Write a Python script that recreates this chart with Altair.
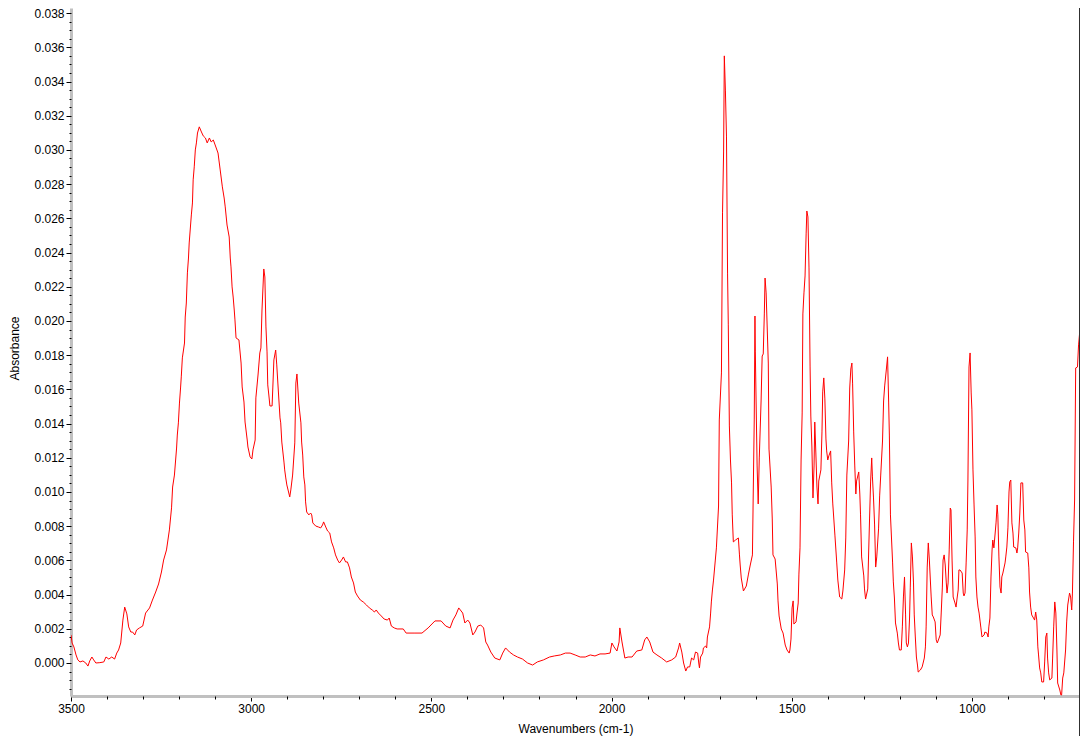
import altair as alt
import pandas as pd

# ---- spectrum values (wavenumber cm-1, absorbance) ----
wn_a = [3500, 3497, 3492, 3486, 3481, 3475, 3467, 3459, 3453, 3448,
        3442, 3437, 3431, 3420, 3409, 3403, 3395, 3387, 3379, 3373,
        3368, 3362, 3356, 3351, 3345, 3340, 3334, 3329, 3323, 3318,
        3310, 3301, 3293, 3282, 3274, 3265, 3257, 3249, 3243, 3235,
        3227, 3221, 3218, 3213, 3207, 3205, 3202, 3199, 3196, 3194,
        3191, 3185, 3183, 3180, 3177, 3174, 3172, 3166, 3163, 3161,
        3158, 3155, 3152, 3149, 3144, 3138, 3133, 3127, 3122, 3116,
        3111, 3105, 3100, 3092, 3086, 3080, 3075, 3072, 3067, 3061,
        3058, 3056, 3053, 3050, 3047, 3045, 3042, 3034, 3028, 3025,
        3020, 3017, 3011, 3009, 3003]
ab_a = [0.00164, 0.00117, 0.00094, 0.00047, 0.00018, 0.00006, 0.00012, 0.0, -0.00018, 0.00012,
        0.00035, 0.00018, 0.0, 0.00002, 0.00006, 0.00035, 0.00023, 0.00035, 0.00023, 0.00058,
        0.00076, 0.00117, 0.00251, 0.00327, 0.00287, 0.00211, 0.00181, 0.00181, 0.00164, 0.00193,
        0.00205, 0.00216, 0.00292, 0.00322, 0.00368, 0.00415, 0.00462, 0.00532, 0.00602, 0.00661,
        0.00778, 0.00907, 0.01029, 0.01099, 0.01257, 0.01333, 0.01404, 0.01520, 0.01608, 0.01673,
        0.01784, 0.01871, 0.02023, 0.02105, 0.02281, 0.02368, 0.02456, 0.02620, 0.02690, 0.02825,
        0.02901, 0.03000, 0.03041, 0.03099, 0.03135, 0.03105, 0.03082, 0.03070, 0.03041, 0.03070,
        0.03047, 0.03058, 0.03029, 0.02982, 0.02883, 0.02784, 0.02719, 0.02667, 0.02561, 0.02491,
        0.02368, 0.02316, 0.02199, 0.02140, 0.02064, 0.02006, 0.01901, 0.01889, 0.01754, 0.01614,
        0.01526, 0.01409, 0.01304, 0.01263, 0.01205]

wn_b = [2998, 2995, 2989, 2987, 2981, 2976, 2973, 2970, 2965, 2962,
        2959, 2956, 2954, 2951, 2948, 2942, 2940, 2937, 2932, 2929,
        2926, 2920, 2918, 2915, 2909, 2907, 2904, 2901, 2893, 2890,
        2885, 2879, 2876, 2873, 2868, 2862, 2860, 2857, 2854, 2851,
        2849, 2846, 2840, 2835, 2832, 2829, 2821, 2813, 2807, 2802,
        2799, 2793, 2788, 2782, 2777, 2771, 2766, 2760, 2755, 2749,
        2744, 2738, 2733, 2727, 2722, 2716, 2711, 2705, 2697, 2689,
        2680, 2672, 2664, 2658, 2653, 2647, 2639, 2631, 2622, 2617,
        2611, 2603, 2595, 2578, 2570, 2548, 2526, 2509, 2490, 2473,
        2460, 2448, 2440, 2432, 2424, 2413, 2407, 2399, 2393, 2385,
        2379, 2371, 2363, 2355, 2349, 2344, 2335, 2324, 2310, 2302,
        2294, 2283, 2272, 2261, 2247, 2233]
ab_b = [0.01193, 0.01246, 0.01304, 0.01550, 0.01684, 0.01813, 0.01842, 0.02064, 0.02304, 0.02257,
        0.01965, 0.01819, 0.01626, 0.01567, 0.01503, 0.01503, 0.01608, 0.01772, 0.01830, 0.01743,
        0.01637, 0.01433, 0.01404, 0.01292, 0.01175, 0.01129, 0.01082, 0.01041, 0.00971, 0.01012,
        0.01099, 0.01287, 0.01637, 0.01690, 0.01520, 0.01404, 0.01292, 0.01216, 0.01088, 0.01041,
        0.00942, 0.00883, 0.00866, 0.00877, 0.00866, 0.00819, 0.00801, 0.00795, 0.00790, 0.00807,
        0.00825, 0.00795, 0.00772, 0.00760, 0.00708, 0.00673, 0.00632, 0.00602, 0.00585, 0.00602,
        0.00620, 0.00591, 0.00591, 0.00556, 0.00503, 0.00468, 0.00415, 0.00392, 0.00368, 0.00357,
        0.00339, 0.00322, 0.00310, 0.00298, 0.00310, 0.00292, 0.00275, 0.00257, 0.00251, 0.00263,
        0.00216, 0.00205, 0.00199, 0.00199, 0.00175, 0.00175, 0.00175, 0.00205, 0.00246, 0.00246,
        0.00216, 0.00205, 0.00251, 0.00281, 0.00322, 0.00292, 0.00234, 0.00251, 0.00234, 0.00164,
        0.00181, 0.00216, 0.00222, 0.00205, 0.00123, 0.00105, 0.00064, 0.00029, 0.00018, 0.00058,
        0.00088, 0.00064, 0.00047, 0.00035, 0.00023, 0.0]

wn_c = [2219, 2206, 2189, 2172, 2159, 2142, 2128, 2115, 2101, 2087,
        2073, 2059, 2046, 2032, 2018, 2004, 1999, 1993, 1985, 1979,
        1977, 1971, 1963, 1954, 1943, 1930, 1916, 1908, 1902, 1894,
        1885, 1874, 1861, 1847, 1833, 1822, 1814, 1811, 1805, 1800,
        1794, 1789, 1783, 1778, 1772, 1767, 1761, 1758, 1756, 1753,
        1747, 1745, 1739, 1736, 1734, 1728, 1725, 1723, 1720, 1717, 1712]
ab_c = [-0.00012, 0.00006, 0.00018, 0.00035, 0.00041, 0.00047, 0.00058, 0.00058, 0.00047, 0.00035,
        0.00035, 0.00047, 0.00041, 0.00053, 0.00053, 0.00058, 0.00117, 0.00094, 0.00070, 0.00123,
        0.00205, 0.00123, 0.00029, 0.00035, 0.00035, 0.00070, 0.00076, 0.00135, 0.00152, 0.00123,
        0.00064, 0.00047, 0.00029, 0.00006, 0.00018, 0.00035, 0.00088, 0.00117, 0.00064, 0.0,
        -0.00047, -0.00023, -0.00023, 0.00029, 0.00018, 0.00064, 0.00058, 0.0, -0.00029, 0.00035,
        0.00058, 0.00088, 0.00099, 0.00088, 0.00152, 0.00211, 0.00292, 0.00357, 0.00427, 0.00485, 0.00602]

wn_d = [1709, 1703, 1701, 1695, 1692, 1689, 1687, 1684, 1681, 1678,
        1676, 1673, 1670, 1667, 1665, 1662, 1656, 1648, 1645, 1643,
        1640, 1634, 1626, 1620, 1615, 1609, 1607, 1604, 1602, 1601,
        1596, 1593, 1590, 1585, 1582, 1579, 1576, 1574, 1571, 1565,
        1563, 1557, 1554, 1552, 1546, 1540, 1538, 1535, 1529, 1524,
        1518, 1513, 1507, 1505, 1502, 1499, 1496, 1494, 1488, 1485,
        1482, 1480, 1477, 1474, 1471, 1469, 1466, 1463, 1460, 1458,
        1455, 1452, 1449, 1447, 1444, 1441, 1438, 1436, 1433, 1430,
        1427, 1425, 1419, 1416, 1414, 1411, 1408, 1405, 1403, 1400,
        1397, 1392, 1389, 1386, 1380, 1375, 1372, 1367, 1361, 1358,
        1353, 1350, 1347, 1342, 1339, 1336, 1333, 1331, 1328, 1325,
        1322, 1320, 1314, 1311, 1309, 1306, 1300]
ab_d = [0.00673, 0.00918, 0.01421, 0.01696, 0.02632, 0.02988, 0.03550, 0.03345, 0.03076, 0.02275,
        0.01977, 0.01386, 0.01187, 0.01053, 0.00866, 0.00708, 0.00719, 0.00731, 0.00632, 0.00573,
        0.00497, 0.00421, 0.00450, 0.00520, 0.00573, 0.00632, 0.00953, 0.01421, 0.02029, 0.01819,
        0.01152, 0.00930, 0.01199, 0.01532, 0.01795, 0.01807, 0.02041, 0.02251, 0.02164, 0.01754,
        0.01251, 0.01029, 0.00842, 0.00632, 0.00608, 0.00462, 0.00363, 0.00275, 0.00199, 0.00175,
        0.00105, 0.00076, 0.00058, 0.00076, 0.00140, 0.00322, 0.00363, 0.00228, 0.00240, 0.00298,
        0.00351, 0.00520, 0.00673, 0.01187, 0.01462, 0.02041, 0.02164, 0.02263, 0.02509, 0.02643,
        0.02608, 0.02310, 0.01731, 0.01444, 0.01263, 0.00965, 0.01152, 0.01409, 0.01228, 0.01029,
        0.00930, 0.01064, 0.01129, 0.01351, 0.01585, 0.01667, 0.01544, 0.01310, 0.01240, 0.01187,
        0.01211, 0.01240, 0.01053, 0.00930, 0.00743, 0.00585, 0.00485, 0.00386, 0.00374, 0.00421,
        0.00544, 0.00731, 0.01099, 0.01298, 0.01608, 0.01719, 0.01754, 0.01632, 0.01351, 0.01152,
        0.00988, 0.01064, 0.01117, 0.00988, 0.00866, 0.00620, 0.00509]

wn_e = [1298, 1295, 1289, 1287, 1284, 1281, 1278, 1276, 1273, 1270,
        1267, 1264, 1259, 1256, 1253, 1248, 1245, 1242, 1237, 1234,
        1231, 1229, 1226, 1220, 1218, 1215, 1212, 1207, 1204, 1201,
        1196, 1193, 1190, 1187, 1184, 1182, 1179, 1176, 1173, 1171,
        1168, 1165, 1162, 1160, 1157, 1154, 1151, 1149, 1143, 1138,
        1132, 1129, 1127, 1124, 1121, 1118, 1113, 1110, 1107, 1102,
        1099, 1096, 1091, 1088, 1085, 1082, 1080, 1077, 1074, 1071,
        1069, 1066, 1063, 1060, 1058, 1055, 1052, 1047, 1044, 1041,
        1038, 1036, 1033, 1027, 1024, 1022, 1019, 1016, 1013, 1011,
        1008, 1005, 1002, 1000, 997, 994, 991, 989, 986, 983,
        980, 977, 975, 972, 966, 964, 958, 955, 953, 950,
        947, 944, 942, 939, 933, 930, 928, 925, 922, 919,
        917, 914, 908, 906, 903, 900, 897, 895, 892, 889,
        886, 884, 878, 875, 873, 870, 867, 864, 859, 856,
        853, 851, 845, 842, 840, 837, 834, 829, 826, 823,
        820, 817, 815, 812, 809, 806, 801, 798, 795, 792,
        790, 787, 784, 778, 776, 773, 770, 767, 764, 762,
        756, 753, 751, 748, 745, 740, 737, 734, 729, 726,
        723, 721, 718, 715, 712, 707, 704, 701]
ab_e = [0.00433, 0.00374, 0.00433, 0.00608, 0.00842, 0.01064, 0.01199, 0.01088, 0.00965, 0.00807,
        0.00561, 0.00620, 0.00784, 0.00977, 0.01099, 0.01298, 0.01532, 0.01620, 0.01725, 0.01790,
        0.01526, 0.01333, 0.00866, 0.00585, 0.00474, 0.00380, 0.00234, 0.00175, 0.00117, 0.00076,
        0.00076, 0.00211, 0.00386, 0.00503, 0.00281, 0.00117, 0.00094, 0.00117, 0.00263, 0.00439,
        0.00702, 0.00620, 0.00468, 0.00281, 0.00152, 0.00035, -0.00012, -0.00053, -0.00041, -0.00023,
        0.00029, 0.00094, 0.00211, 0.00561, 0.00702, 0.00602, 0.00386, 0.00281, 0.00269, 0.00240,
        0.00135, 0.00117, 0.00146, 0.00164, 0.00298, 0.00444, 0.00602, 0.00632, 0.00573, 0.00468,
        0.00409, 0.00468, 0.00661, 0.00906, 0.00895, 0.00602, 0.00386, 0.00351, 0.00327, 0.00380,
        0.00427, 0.00544, 0.00544, 0.00526, 0.00409, 0.00392, 0.00409, 0.00585, 0.00778, 0.01070,
        0.01731, 0.01813, 0.01579, 0.01480, 0.01129, 0.00924, 0.00737, 0.00503, 0.00386, 0.00327,
        0.00292, 0.00240, 0.00205, 0.00152, 0.00164, 0.00181, 0.00175, 0.00152, 0.00211, 0.00263,
        0.00503, 0.00661, 0.00719, 0.00673, 0.00819, 0.00924, 0.00866, 0.00620, 0.00444, 0.00409,
        0.00503, 0.00526, 0.00585, 0.00620, 0.00678, 0.00790, 0.01000, 0.01058, 0.01070, 0.00819,
        0.00760, 0.00678, 0.00673, 0.00643, 0.00673, 0.00760, 0.00877, 0.01053, 0.01053, 0.00836,
        0.00778, 0.00649, 0.00643, 0.00556, 0.00415, 0.00327, 0.00281, 0.00263, 0.00251, 0.00298,
        0.00251, 0.00094, 0.00047, -0.00029, -0.00058, -0.00111, -0.00111, 0.00006, 0.00152, 0.00175,
        0.00029, -0.00058, -0.00099, -0.00088, 0.00029, 0.00211, 0.00357, 0.00292, 0.00076, -0.00117,
        -0.00158, -0.00187, -0.00187, -0.00088, -0.00058, 0.00076, 0.00240, 0.00339, 0.00409, 0.00386,
        0.00310, 0.00409, 0.00708, 0.00953, 0.01725, 0.01731, 0.01860, 0.01930]

# ---- axis ticks / labels ----
x_major = [3500, 3000, 2500, 2000, 1500, 1000]
x_minor = [3400, 3300, 3200, 3100, 2900, 2800, 2700, 2600, 2400, 2300, 2200, 2100,
           1900, 1800, 1700, 1600, 1400, 1300, 1200, 1100, 900, 800, 700]
y_major = [0.000, 0.002, 0.004, 0.006, 0.008, 0.010, 0.012, 0.014, 0.016, 0.018,
           0.020, 0.022, 0.024, 0.026, 0.028, 0.030, 0.032, 0.034, 0.036, 0.038]
y_minor = [round(k * 0.0005, 4) for k in range(-3, 77)]

wavenumber = wn_a + wn_b + wn_c + wn_d + wn_e
absorbance = ab_a + ab_b + ab_c + ab_d + ab_e
df = pd.DataFrame({"wn": wavenumber, "absorbance": absorbance})

FONT = "Liberation Sans"
PLOT_W = 1009
PLOT_H = 688
x_scale = alt.Scale(domain=[3500, 700], nice=False, zero=False)
y_scale = alt.Scale(domain=[-0.00193, 0.0383], nice=False, zero=False)

common = dict(domainColor="#c0c0c0", domainWidth=3, tickColor="#000000", tickWidth=1,
              grid=False, labelFont=FONT, labelFontSize=12, labelColor="#000000",
              labelFlush=False,
              titleFont=FONT, titleFontSize=12, titleFontWeight="normal", titleColor="#000000")

line = alt.Chart(df).mark_line(color="#ff0000", strokeWidth=1, clip=True).encode(
    x=alt.X("wn:Q", scale=x_scale,
            axis=alt.Axis(values=x_major, format="d", tickSize=5, labelPadding=2,
                          title="Wavenumbers (cm-1)", titleY=32, titleBaseline="middle",
                          orient="bottom", **common)),
    y=alt.Y("absorbance:Q", scale=y_scale,
            axis=alt.Axis(values=y_major, format=".3f", tickSize=5, labelPadding=2,
                          title="Absorbance", titleX=-57, titleY=340, titleAngle=270,
                          titleAlign="center", titleBaseline="middle",
                          orient="left", **common)),
)

minor = alt.Chart(df).mark_line(opacity=0).encode(
    x=alt.X("wn:Q", scale=x_scale,
            axis=alt.Axis(values=x_minor, labels=False, tickSize=3, domain=False, grid=False,
                          tickColor="#000000", title="", orient="bottom")),
    y=alt.Y("absorbance:Q", scale=y_scale,
            axis=alt.Axis(values=y_minor, labels=False, tickSize=2, domain=False, grid=False,
                          tickColor="#000000", title="", orient="left")),
)

frame = alt.Chart(pd.DataFrame({"k": [0]})).mark_rule(color="#303030", strokeWidth=1).encode(
    x=alt.value(PLOT_W - 0.5), y=alt.value(0), y2=alt.value(PLOT_H + 40)
)

chart = alt.layer(line, minor, frame).resolve_axis(
    x="independent", y="independent"
).properties(
    width=PLOT_W, height=PLOT_H,
    padding={"left": 63, "top": 0, "right": 0, "bottom": 40},
    autosize=alt.AutoSizeParams(type="none"),
    background="white",
).configure_view(stroke="transparent")

chart.save("out.html", embed_options={"renderer": "svg", "actions": False})
